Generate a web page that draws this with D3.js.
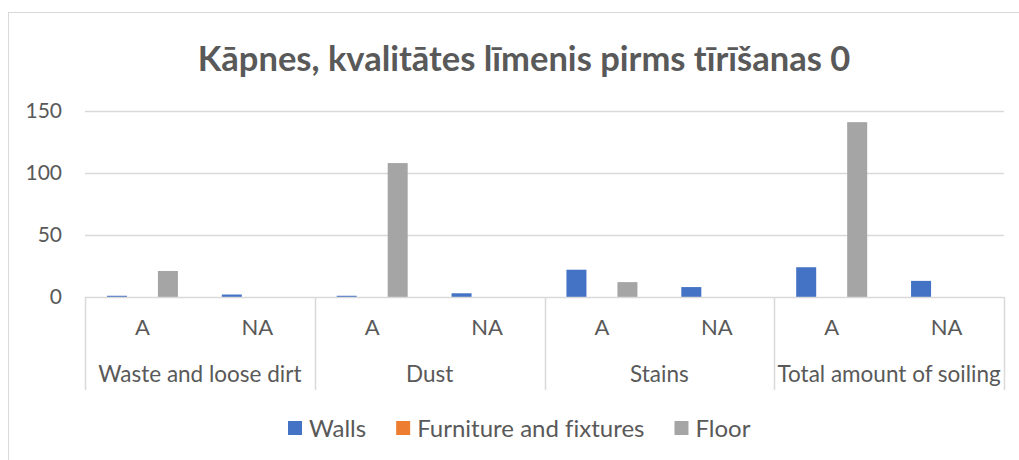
<!DOCTYPE html>
<html>
<head>
<meta charset="utf-8">
<script src="https://cdn.jsdelivr.net/npm/d3@7"></script>
<style>
  body { margin: 0; background: #fff; }
  text { font-family: Lato, "Open Sans", sans-serif; fill: #595959; font-variant-ligatures: none; }
</style>
</head>
<body>
<div id="chart"></div>
<script>
// data
var groups = ["Waste and loose dirt", "Dust", "Stains", "Total amount of soiling"];
var subCats = ["A", "NA"];
var seriesNames = ["Walls", "Furniture and fixtures", "Floor"];
var seriesColors = ["#4472C4", "#ED7D31", "#A5A5A5"];
// one value per (group, subcat), in order: W-A, W-NA, D-A, D-NA, S-A, S-NA, T-A, T-NA
var walls = [1, 2, 1, 3, 22, 8, 24, 13];
var furniture = [0, 0, 0, 0, 0, 0, 0, 0];
var floor = [21, 0, 108, 0, 12, 0, 141, 0];
var yTicks = [0, 50, 100, 150];

var svgWidth = 1019;
var svgHeight = 460;

var plot = { left: 85, right: 1004, top: 111, bottom: 297 };

var svg = d3.select("#chart")
  .append("svg")
  .attr("width", svgWidth)
  .attr("height", svgHeight);

// chart frame
svg.append("rect")
  .attr("x", 8.5)
  .attr("y", 12.5)
  .attr("width", 1030)
  .attr("height", 480)
  .attr("fill", "none")
  .attr("stroke", "#D9D9D9");

// flat list of categories
var cats = [];
groups.forEach(function (g) {
  subCats.forEach(function (s) {
    cats.push(g + "|" + s);
  });
});

var seriesValues = [walls, furniture, floor];

var xScale = d3.scaleBand()
  .domain(cats)
  .range([plot.left, plot.right]);

var xInner = d3.scaleBand()
  .domain(seriesNames)
  .range([0, 71])
  .paddingInner(0.2157);

var yScale = d3.scaleLinear()
  .domain([0, 150])
  .range([plot.bottom, plot.top]);

// gridlines
svg.append("g")
  .selectAll("line")
  .data(yTicks.slice(1))
  .enter()
  .append("line")
  .attr("x1", plot.left)
  .attr("x2", plot.right)
  .attr("y1", d => Math.round(yScale(d)) + 0.5)
  .attr("y2", d => Math.round(yScale(d)) + 0.5)
  .attr("stroke", "#D9D9D9")
  .attr("stroke-width", 1.5);

// y labels
var yAxis = svg.append("g")
  .attr("transform", `translate(${plot.left}, 0)`)
  .call(d3.axisLeft(yScale).tickValues(yTicks).tickSize(0).tickPadding(23));
yAxis.select(".domain").remove();
yAxis.selectAll("text")
  .style("font-size", "21px")
  .style("font-family", "Lato, sans-serif")
  .attr("fill", "#595959");

// bars
var cluster = svg.append("g");
seriesNames.forEach(function (name, si) {
  cluster.selectAll("rect.s" + si)
    .data(seriesValues[si])
    .enter()
    .append("rect")
    .attr("class", "s" + si)
    .attr("x", (d, i) => xScale(cats[i]) + xScale.bandwidth() / 2 - 35.5 + xInner(name))
    .attr("width", xInner.bandwidth())
    .attr("y", d => yScale(d))
    .attr("height", d => yScale(0) - yScale(d))
    .attr("fill", seriesColors[si]);
});

// category axis baseline
svg.append("line")
  .attr("x1", plot.left)
  .attr("x2", plot.right)
  .attr("y1", plot.bottom + 0.5)
  .attr("y2", plot.bottom + 0.5)
  .attr("stroke", "#D9D9D9")
  .attr("stroke-width", 1.5);

// group separators
var groupScale = d3.scaleBand()
  .domain(groups)
  .range([plot.left, plot.right]);

var seps = groups.map(g => groupScale(g)).concat([plot.right]);
svg.append("g")
  .selectAll("line")
  .data(seps)
  .enter()
  .append("line")
  .attr("x1", d => Math.round(d) + 0.5)
  .attr("x2", d => Math.round(d) + 0.5)
  .attr("y1", plot.bottom)
  .attr("y2", 390)
  .attr("stroke", "#D9D9D9")
  .attr("stroke-width", 1.5);

// sub category labels
svg.append("g")
  .selectAll("text")
  .data(cats)
  .enter()
  .append("text")
  .attr("x", d => xScale(d) + xScale.bandwidth() / 2)
  .attr("y", 335)
  .attr("text-anchor", "middle")
  .style("font-size", "22px")
  .text(d => d.split("|")[1]);

// group labels
svg.append("g")
  .selectAll("text")
  .data(groups)
  .enter()
  .append("text")
  .attr("x", d => groupScale(d) + groupScale.bandwidth() / 2)
  .attr("y", 382)
  .attr("text-anchor", "middle")
  .style("font-size", "22.5px")
  .text(d => d);

// title
svg.append("text")
  .attr("x", 524)
  .attr("y", 71)
  .attr("text-anchor", "middle")
  .style("font-size", "34.5px")
  .style("font-weight", "bold")
  .text("Kāpnes, kvalitātes līmenis pirms tīrīšanas 0");

// legend
var legend = svg.append("g");
var lx = 288;
seriesNames.forEach(function (name, i) {
  legend.append("rect")
    .attr("x", lx)
    .attr("y", 421)
    .attr("width", 14)
    .attr("height", 14)
    .attr("fill", seriesColors[i]);
  var t = legend.append("text")
    .attr("x", lx + 21)
    .attr("y", 437)
    .style("font-size", "24px")
    .text(name);
  lx = lx + 21 + t.node().getComputedTextLength() + 30;
});
</script>
</body>
</html>
